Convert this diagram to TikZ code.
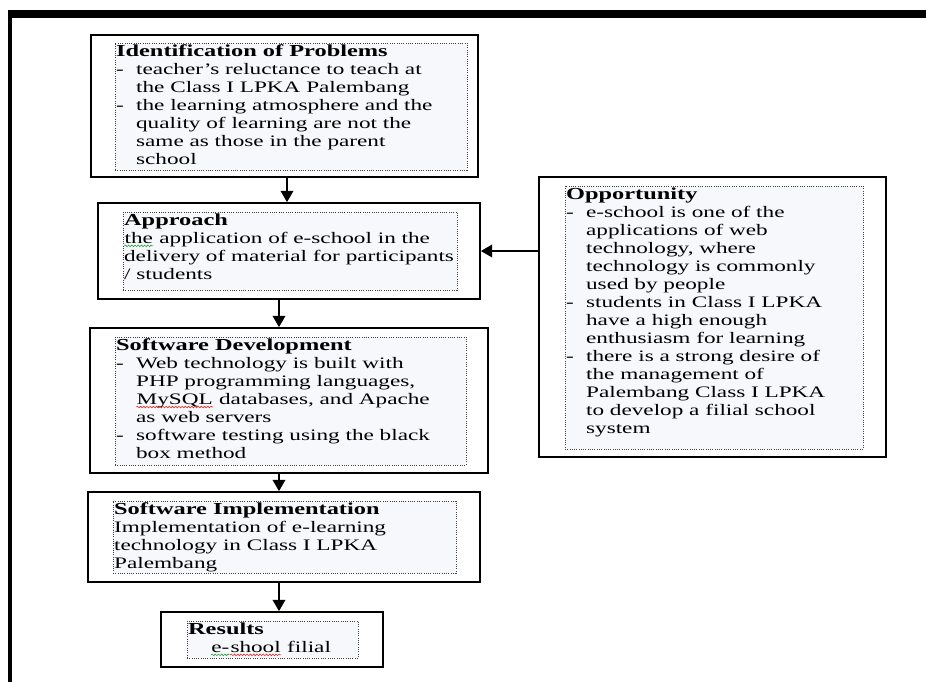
\documentclass[tikz,border=0pt]{standalone}
\usepackage{fontspec}
\setmainfont{Liberation Serif}[FakeStretch=1.45]
\usetikzlibrary{arrows.meta,positioning,decorations.pathmorphing}

\definecolor{hlblue}{RGB}{246,248,251}
\definecolor{spellred}{RGB}{230,40,40}
\definecolor{spellgreen}{RGB}{40,160,60}
\newcommand{\itemdash}{\makebox[15pt][l]{-}}
\newcommand{\itemgap}{\hspace*{15pt}}
\newcommand{\boxhead}[1]{{\fontsize{12.6}{13.5}\selectfont\bfseries #1}}
\newcommand{\squig}[2]{\tikz[baseline=(w.base)]{\node[inner sep=0pt,anchor=base] (w) {#2};
  \draw[#1, line width=0.45pt, decorate, decoration={snake, amplitude=0.6pt, segment length=2.4pt}]
    ([yshift=-1.8pt]w.base west) -- ([yshift=-1.8pt]w.base east);}}

\tikzset{
  frame/.style={draw=black, line width=1.3pt, fill=white, inner sep=0pt},
  dotbox/.style={draw=black!75, densely dotted, line width=0.7pt, fill=hlblue, inner sep=0pt},
  boxtext/.style={anchor=north west, inner sep=0pt, align=left,
    font=\fontsize{12}{13.5}\selectfont},
  flow/.style={line width=1.3pt, -{Triangle[width=9.5pt,length=8.5pt]}},
  boxsize/.style args={#1 by #2}{minimum width=#1, minimum height=#2}
}

\begin{document}
\begin{tikzpicture}[x=0.75pt,y=-0.75pt]
    \useasboundingbox (0,0) rectangle (926,682);
    % page frame
    \fill (8,10) rectangle (926,17.5);
    \fill (8,10) rectangle (12,682);

    % left column
    \node[frame, boxsize=290.25pt by 106.5pt] (prob) at (284.5,106) {};
    \node[dotbox, boxsize=264pt by 95.25pt] (probin) at (291,106.5) {};
    \node[boxtext] (probtxt) at ([shift={(1pt,-1.5pt)}]probin.north west)
      {\boxhead{Identification of Problems}\\
       \itemdash teacher's reluctance to teach at\\
       \itemgap the Class I LPKA Palembang\\
       \itemdash the learning atmosphere and the\\
       \itemgap quality of learning are not the\\
       \itemgap same as those in the parent\\
       \itemgap school};

    \node[frame, boxsize=286.5pt by 72pt] (appr) at (289,251) {};
    \node[dotbox, boxsize=250.5pt by 58.5pt] (apprin) at (290,251) {};
    \node[boxtext] (apprtxt) at ([shift={(1pt,-1.5pt)}]apprin.north west)
      {\boxhead{Approach}\\
       \squig{spellgreen}{the} application of e-school in the\\
       delivery of material for participants\\
       / students};

    \node[frame, boxsize=298.5pt by 108.75pt] (dev) at (289,400.5) {};
    \node[dotbox, boxsize=263.25pt by 96pt] (devin) at (290.5,401) {};
    \node[boxtext] (devtxt) at ([shift={(1pt,-1.5pt)}]devin.north west)
      {\boxhead{Software Development}\\
       \itemdash Web technology is built with\\
       \itemgap PHP programming languages,\\
       \itemgap \squig{spellred}{MySQL} databases, and Apache\\
       \itemgap as web servers\\
       \itemdash software testing using the black\\
       \itemgap box method};

    \node[frame, boxsize=294pt by 67.5pt] (impl) at (284,537) {};
    \node[dotbox, boxsize=257.25pt by 54pt] (implin) at (284.5,537) {};
    \node[boxtext] (impltxt) at ([shift={(1pt,-1.5pt)}]implin.north west)
      {\boxhead{Software Implementation}\\
       Implementation of e-learning\\
       technology in Class I LPKA\\
       Palembang};

    \node[frame, boxsize=166.5pt by 41.25pt] (res) at (272,639.5) {};
    \node[dotbox, boxsize=128.25pt by 27.75pt] (resin) at (272.5,639.5) {};
    \node[boxtext] (restxt) at ([shift={(1pt,-1.5pt)}]resin.north west)
      {\boxhead{Results}\\
       \hspace*{17pt}\squig{spellgreen}{e-}\squig{spellred}{shool} filial};

    % right column
    \node[frame, boxsize=260.25pt by 210pt] (opp) at (712.5,317) {};
    \node[dotbox, boxsize=223.5pt by 197.25pt] (oppin) at (714,317.5) {};
    \node[boxtext] (opptxt) at ([shift={(1pt,-1.5pt)}]oppin.north west)
      {\boxhead{Opportunity}\\
       \itemdash e-school is one of the\\
       \itemgap applications of web\\
       \itemgap technology, where\\
       \itemgap technology is commonly\\
       \itemgap used by people\\
       \itemdash students in Class I LPKA\\
       \itemgap have a high enough\\
       \itemgap enthusiasm for learning\\
       \itemdash there is a strong desire of\\
       \itemgap the management of\\
       \itemgap Palembang Class I LPKA\\
       \itemgap to develop a filial school\\
       \itemgap system};

    % connectors
    \coordinate (axis) at (287,0);
    \coordinate (axisb) at (279,0);
    \draw[flow] (prob.south -| axis) -- (appr.north -| axis);
    \draw[flow] (appr.south -| axisb) -- (dev.north -| axisb);
    \draw[flow] (dev.south -| axisb) -- (impl.north -| axisb);
    \draw[flow] (impl.south -| axisb) -- (res.north -| axisb);
    \draw[flow] (opp.west |- appr.east) -- (appr.east);
\end{tikzpicture}
\end{document}
